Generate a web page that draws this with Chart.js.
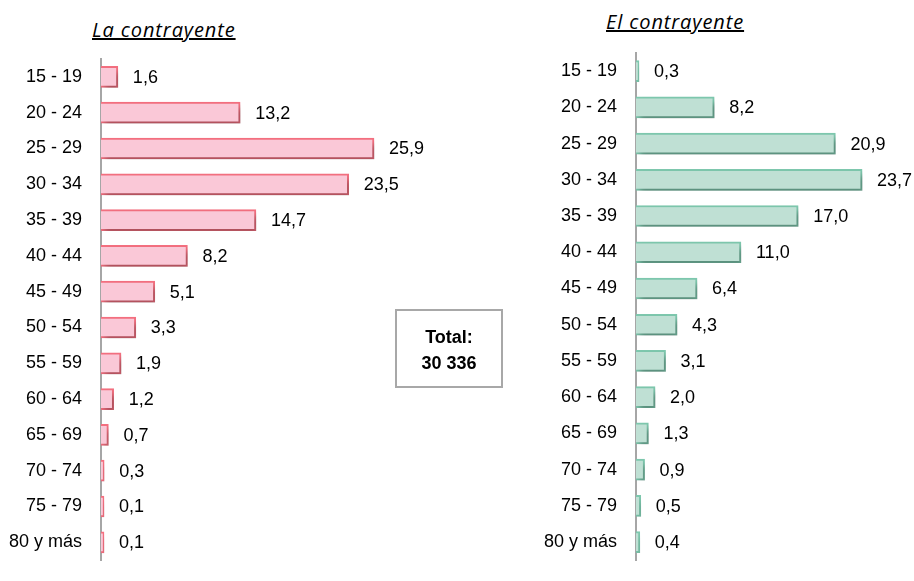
<!DOCTYPE html>
<html>
<head>
<meta charset="utf-8">
<script src="https://cdn.jsdelivr.net/npm/chart.js@4/dist/chart.umd.min.js"></script>
<style>
  html, body { margin: 0; padding: 0; background: #fff; }
  body { width: 914px; height: 581px; position: relative; overflow: hidden; }
  .box { position: absolute; }
  .title { position: absolute; font-family: "Open Sans", sans-serif; font-style: italic; font-size: 20px; letter-spacing: 0.9px; text-decoration: underline; color: #000; white-space: nowrap; }
  #total { left: 395px; top: 309px; width: 108px; height: 79px; border: 2px solid #a8a8a8; font-family: "Liberation Sans", Arial, sans-serif; font-weight: bold; font-size: 18px; text-align: center; line-height: 26px; padding-top: 13px; box-sizing: border-box; }
</style>
</head>
<body>
<div class="title" style="left:92px; top:16px;">La contrayente</div>
<div class="title" style="left:606px; top:8px;">El contrayente</div>
<canvas id="leftChart" class="box" style="left:0; top:0;"></canvas>
<canvas id="rightChart" class="box" style="left:520px; top:0;"></canvas>
<div id="total" class="box">Total:<br>30 336</div>
<script>
const ageGroups = ["15 - 19", "20 - 24", "25 - 29", "30 - 34", "35 - 39", "40 - 44", "45 - 49",
  "50 - 54", "55 - 59", "60 - 64", "65 - 69", "70 - 74", "75 - 79", "80 y más"]
const contrayenteMujer = [1.6, 13.2, 25.9, 23.5, 14.7, 8.2, 5.1, 3.3, 1.9, 1.2, 0.7, 0.3, 0.1, 0.1]
const contrayenteHombre = [0.3, 8.2, 20.9, 23.7, 17.0, 11.0, 6.4, 4.3, 3.1, 2.0, 1.3, 0.9, 0.5, 0.4]

const labelFont = "'Liberation Sans', Arial, sans-serif"

// drop shadow behind the bars
const shadowPlugin = {
  id: "shadow",
  beforeDatasetsDraw(chart) {
    const ctx = chart.ctx
    ctx.save()
    ctx.shadowColor = "rgba(0,0,0,0.3)"
    ctx.shadowOffsetX = 4
    ctx.shadowOffsetY = 5
    ctx.shadowBlur = 6
  },
  afterDatasetsDraw(chart) {
    chart.ctx.restore()
  }
}

// values next to the bars
const valueLabels = {
  id: "valueLabels",
  afterDraw(chart) {
    const ctx = chart.ctx
    const meta = chart.getDatasetMeta(0)
    const data = chart.data.datasets[0].data
    ctx.save()
    ctx.font = "18px " + labelFont
    ctx.fillStyle = "#000"
    ctx.textAlign = "left"
    ctx.textBaseline = "middle"
    meta.data.forEach(function (bar, i) {
      ctx.fillText(data[i].toFixed(1).replace(".", ","), bar.x + 15, bar.y + 1)
    })
    ctx.restore()
  }
}

function makeChart(id, w, values, fill, border, axisWidth, xMax, padTop, padBottom) {
  const canvas = document.getElementById(id)
  canvas.width = w
  canvas.height = 590
  canvas.style.width = w + "px"
  canvas.style.height = "590px"
  return new Chart(canvas, {
    type: "bar",
    data: {
      labels: ageGroups,
      datasets: [{
        data: values,
        backgroundColor: fill,
        borderColor: border,
        borderWidth: 2,
        borderSkipped: "left",
        barThickness: 21,
        minBarLength: 3
      }]
    },
    options: {
      indexAxis: "y",
      responsive: false,
      animation: false,
      layout: { padding: { top: padTop, bottom: padBottom, left: 0, right: 0 } },
      plugins: { legend: { display: false }, tooltip: { enabled: false } },
      scales: {
        x: { display: false, min: 0, max: xMax },
        y: {
          grid: { display: false, drawTicks: false },
          border: { display: true, color: "#a6a6a6", width: 2 },
          ticks: {
            padding: 19,
            color: "#000",
            font: { family: labelFont, size: 18 }
          },
          afterFit(scale) { scale.width = axisWidth }
        }
      }
    },
    plugins: [shadowPlugin, valueLabels]
  })
}

makeChart("leftChart", 460, contrayenteMujer, "rgb(250,200,215)", "rgb(244,112,128)", 101, 34.06, 59, 3)
makeChart("rightChart", 394, contrayenteHombre, "rgb(191,224,212)", "rgb(126,200,174)", 116, 29.14, 53, 7)
</script>
</body>
</html>
